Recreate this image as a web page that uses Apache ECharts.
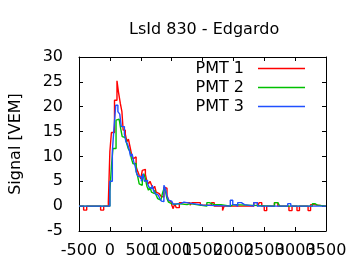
<!DOCTYPE html>
<html><head><meta charset="utf-8">
<script src="https://cdn.jsdelivr.net/npm/echarts@6/dist/echarts.min.js"></script>
<style>html,body{margin:0;padding:0;background:#fff}#c{width:360px;height:270px}</style>
</head><body><div id="c"></div>
<script>
// Data (time in ns, signal in VEM); each value holds until the next time (step histogram)
const titleText = "LsId 830 - Edgardo";
const seriesNames = ["PMT 1", "PMT 2", "PMT 3"];
const xTicks = [-500, 0, 500, 1000, 1500, 2000, 2500, 3000, 3500];
const yTicks = [-5, 0, 5, 10, 15, 20, 25, 30];

const pmt1Times = [-500,-425,-375,-150,-100,-25,0,25,75,115,140,170,195,215,250,275,300,325,350,375,400,425,450,475,500,525,550,575,600,625,650,675,700,725,750,775,800,825,850,875,900,925,950,975,1000,1025,1050,1075,1125,1300,1330,1465,1645,1690,1825,1850,2330,2390,2420,2460,2500,2540,2665,2720,2900,2950,3030,3070,3210,3250,3300,3500];
const pmt1Vals  = [0,-0.8,0,-0.8,0,0.8,11,14.8,21.3,25.2,22.9,20.6,19,15.3,14.5,13,13.5,12,10.5,9.5,9.9,8,7,6.2,5.5,7.2,7.4,6.4,5,4.5,5,4.2,3.5,4,2.8,2.5,2.3,2,1.8,3.8,3.6,2.2,1.2,0.8,0.3,-0.5,0.5,-0.3,0.7,0.2,0.7,0.2,0.7,0,-0.9,0,0.7,0,0.7,0,-0.9,0,0.7,0,-0.9,0,-0.9,0,-0.9,0.3,0,0];

const pmt2Times = [-500,0,25,50,100,125,150,175,200,225,250,275,300,325,350,375,400,425,450,475,500,525,550,575,600,625,650,675,700,725,750,775,800,825,850,875,900,925,950,975,1000,1025,1050,1100,1250,1300,1400,1570,1610,1690,1800,1950,2000,2665,2720,2750,3280,3320,3360,3500];
const pmt2Vals  = [0,3,8,11.6,17.3,17.5,17.3,15.6,14,13.8,13.5,12.5,11.5,11,9.5,8.5,8.6,7,6,4.5,4.2,5.5,6.5,5.5,4,3.2,3.8,2.8,2.5,3.2,2.2,1.5,1.2,1.5,2.5,3.5,3,1.5,0.8,0.5,0.8,0.3,0.5,0.3,0.5,0.3,0,0.7,0.3,0.3,0,0.3,0,0.7,0.3,0,0.5,0.2,0,0];

const pmt3Times = [-500,0,40,65,95,130,160,185,210,235,260,285,310,335,360,385,410,435,460,485,510,535,560,585,610,635,660,685,710,735,760,785,810,835,860,875,900,925,950,975,1000,1025,1050,1150,1200,1290,1320,1400,1500,1950,1990,2030,2070,2130,2180,2330,2390,2880,2930,3500];
const pmt3Vals  = [0,5,11,15.5,20.3,19,18.5,16,16,14.5,13,12.5,11.5,10,10.5,9,8,6.5,6,5.9,5,6.5,5,5.2,4.5,3.8,3.5,4.2,3,2.5,2.2,1.8,1.5,1,0.9,4.2,3.5,2,1.2,1,0.8,0.4,0.5,0.8,0.6,0.9,0.4,0.2,0,1.2,0.3,0,0.7,0.3,0,0.7,0,0.5,0,0];

const colors = ["#ff0000", "#00c000", "#2050ff"];
const FONT = "DejaVu Sans";

function pairs(ts, vs) { return ts.map((t, i) => [t, vs[i]]); }
const allData = [pairs(pmt1Times, pmt1Vals), pairs(pmt2Times, pmt2Vals), pairs(pmt3Times, pmt3Vals)];

const chart = echarts.init(document.getElementById('c'), null, {renderer: 'canvas'});
const axisCommon = {
  type: 'value', splitLine: {show: false},
  axisLine: {show: true, onZero: false, lineStyle: {color: '#000', width: 1}},
  axisTick: {show: true, inside: true, length: 4, lineStyle: {color: '#000'}}
};
const xMin = xTicks[0], xMax = xTicks[xTicks.length - 1], xInt = xTicks[1] - xTicks[0];
const yMin = yTicks[0], yMax = yTicks[yTicks.length - 1], yInt = yTicks[1] - yTicks[0];
const plain = v => String(v);
const labelStyle = {fontFamily: FONT, fontSize: 16, color: '#000'};
const gridBox = {left: 79, right: 34, top: 57, bottom: 39, containLabel: false};

chart.setOption({
  animation: false,
  backgroundColor: '#fff',
  title: {text: titleText, left: 129, top: 22, padding: 0,
    textStyle: {fontFamily: FONT, fontSize: 16, fontWeight: 'normal', color: '#000'}},
  grid: [Object.assign({}, gridBox), Object.assign({}, gridBox)],
  legend: {
    orient: 'vertical', right: 55, top: 59, padding: 0, itemGap: 0, align: 'right',
    itemWidth: 47, itemHeight: 1.5,
    textStyle: {fontFamily: FONT, fontSize: 16, color: '#000', lineHeight: 19, padding: [0, 9, 0, 0]},
    data: seriesNames.map(n => ({name: n, icon: 'rect'}))
  },
  xAxis: [
    Object.assign({}, axisCommon, {gridIndex: 0, position: 'bottom', min: xMin, max: xMax, interval: xInt,
      axisLabel: Object.assign({margin: 12, formatter: plain, showMinLabel: true, showMaxLabel: false}, labelStyle)}),
    Object.assign({}, axisCommon, {gridIndex: 0, position: 'top', min: xMin, max: xMax, interval: xInt,
      axisLabel: {show: false}}),
    // same scale, used only to show the last tick label (which ECharts would otherwise hide for overlap)
    {type: 'value', gridIndex: 1, position: 'bottom', min: xMin, max: xMax, interval: xInt,
      axisLine: {show: false, onZero: false}, axisTick: {show: false}, splitLine: {show: false},
      axisLabel: Object.assign({margin: 12, showMaxLabel: true, showMinLabel: false,
        formatter: v => (v === xMax ? String(v) : '')}, labelStyle)}
  ],
  yAxis: [
    Object.assign({}, axisCommon, {gridIndex: 0, position: 'left', min: yMin, max: yMax, interval: yInt,
      name: 'Signal [VEM]', nameLocation: 'middle', nameGap: 55,
      nameTextStyle: labelStyle,
      axisLabel: Object.assign({margin: 16, formatter: plain, showMinLabel: true, showMaxLabel: true}, labelStyle)}),
    Object.assign({}, axisCommon, {gridIndex: 0, position: 'right', min: yMin, max: yMax, interval: yInt,
      axisLabel: {show: false}}),
    {type: 'value', gridIndex: 1, min: yMin, max: yMax, interval: yInt, show: false}
  ],
  series: seriesNames.map((n, i) => ({
    name: n, type: 'line', step: 'end', data: allData[i], xAxisIndex: 0, yAxisIndex: 0,
    showSymbol: false, symbol: 'none', color: colors[i],
    lineStyle: {color: colors[i], width: 1.4}, itemStyle: {color: colors[i]}
  }))
});
</script></body></html>
